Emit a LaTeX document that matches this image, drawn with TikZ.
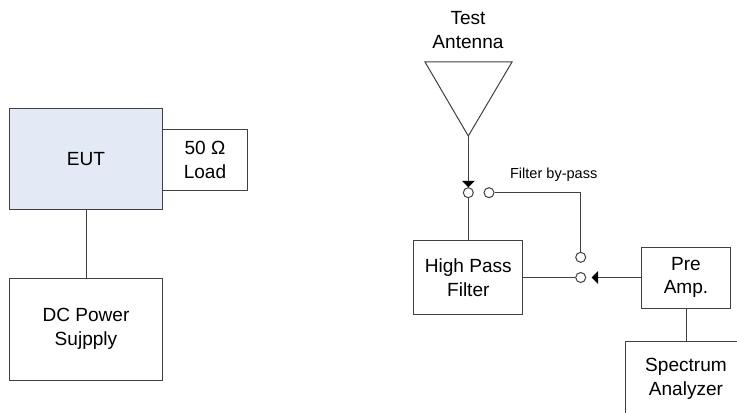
\documentclass[tikz,border=0pt]{standalone}
\usepackage{fontspec}
\setmainfont{Liberation Sans}
\usetikzlibrary{arrows.meta}
\definecolor{eutblue}{HTML}{E4EAF5}
\definecolor{linegray}{HTML}{404040}
\tikzset{
  block/.style={draw=linegray, line width=0.75pt, align=center, inner sep=0pt,
    font=\fontsize{14.3}{17.6}\selectfont},
  contact/.style={draw=linegray, line width=0.75pt, circle, inner sep=0pt, minimum size=7.5pt},
  wire/.style={draw=linegray, line width=0.75pt},
  tip/.style={-{Triangle[length=4.8pt,width=9.5pt,color=black]}}
}

\begin{document}
\begin{tikzpicture}[x=0.75pt, y=-0.75pt]
  \useasboundingbox (0,0) rectangle (737,413);
  \clip (0,0) rectangle (737,413);
  \node[block, fill=eutblue, minimum width=114.75pt, minimum height=76.1pt] (eut) at (86,159.25) {EUT};
  \node[block, minimum width=63.75pt, minimum height=45pt] (load) at (205,160) {50 Ω\\Load};
  \node[block, minimum width=114.75pt, minimum height=76.5pt] (supply) at (86,329) {DC Power\\Sujpply};
  \draw[wire] (eut) -- (supply);

  \node[align=center, font=\fontsize{14.3}{17.6}\selectfont] (antennalabel) at (468,30) {Test\\Antenna};
  \coordinate (antennal) at (425,62);
  \coordinate (antennar) at (512,62);
  \coordinate (antennatip) at (468.3,136);
  \draw[wire] (antennal) -- (antennar) -- (antennatip) -- cycle;

  \node[contact] (swa) at (468.3,192.7) {};
  \node[contact] (swb) at (489,192.7) {};
  \node[contact] (swc) at (580.7,257.3) {};
  \node[contact] (swd) at (580.7,277.5) {};
  \node[font=\fontsize{10.9}{13}\selectfont] (bypass) at (553.7,174.5) {Filter by-pass};

  \node[block, minimum width=81.75pt, minimum height=56pt] (filter) at (468.3,277.5) {High Pass\\Filter};
  \node[block, minimum width=66.45pt, minimum height=45.75pt] (preamp) at (686,277.5) {Pre\\Amp.};
  \node[block, minimum width=91.5pt, minimum height=55.1pt] (spectrum) at (686,378.7) {Spectrum\\Analyzer};
  \coordinate (preamptip) at (591.7,277.5);

  \draw[wire, tip] (antennatip) -- (swa);
  \draw[wire] (swa) -- (filter);
  \draw[wire] (swb) -| (swc);
  \draw[wire] (filter) -- (swd);
  \draw[wire, tip] (preamp) -- (preamptip);
  \draw[wire] (preamp) -- (spectrum);
\end{tikzpicture}
\end{document}
